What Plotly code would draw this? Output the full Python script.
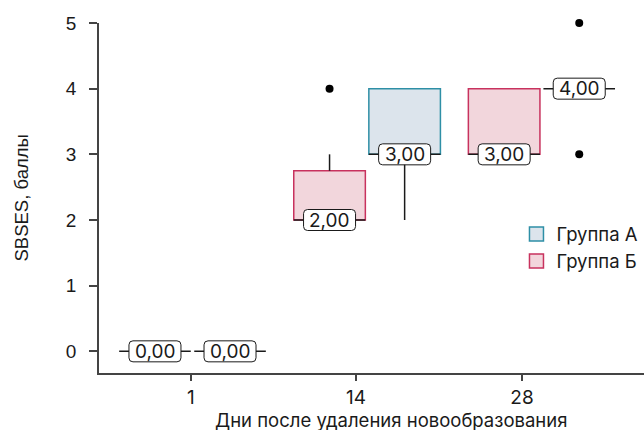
import plotly.graph_objects as go

# ---- data -------------------------------------------------------------
DAYS = ["1", "14", "28"]
GROUP_NAMES = ["Группа А", "Группа Б"]

# Группа А: box statistics per day
A_Q1 = [0, 3, 4]
A_MEDIAN = [0, 3, 4]
A_Q3 = [0, 4, 4]
A_LOW = [0, 2, 4]
A_HIGH = [0, 4, 4]
A_OUTLIERS = [[], [], [5, 3]]

# Группа Б: box statistics per day
B_Q1 = [0, 2, 3]
B_MEDIAN = [0, 2, 3]
B_Q3 = [0, 2.75, 4]
B_LOW = [0, 2, 3]
B_HIGH = [0, 3, 4]
B_OUTLIERS = [[], [4], []]

Y_TICKS = [0, 1, 2, 3, 4, 5]

# ---- layout constants --------------------------------------------------
PAIR_CENTERS = [0, 1, 2]            # centre of each day's pair of boxes
TICK_POS = [-0.01, 0.936, 1.887]    # where the day ticks sit on the axis
DODGE = 0.215                       # half distance between the two boxes
BOX_W = 0.41
X_RANGE = [-0.5355, 2.586]
Y_RANGE = [-0.33, 5]

LABEL_FONT = "Inter"
AXIS_FONT = "Liberation Sans"
INK = "#1a1a1a"
AXIS_COLOR = "#444444"

STYLE = {
    "Группа А": dict(fill="#dce4ec", edge="#2e8fa6", dodge=+DODGE),
    "Группа Б": dict(fill="#f2d6dc", edge="#c8325e", dodge=-DODGE),
}

SERIES = {
    "Группа А": dict(q1=A_Q1, med=A_MEDIAN, q3=A_Q3, low=A_LOW, high=A_HIGH, out=A_OUTLIERS),
    "Группа Б": dict(q1=B_Q1, med=B_MEDIAN, q3=B_Q3, low=B_LOW, high=B_HIGH, out=B_OUTLIERS),
}


def fmt(v):
    return f"{v:.2f}".replace(".", ",")


def rounded_rect(w, h, r):
    hw, hh = w / 2, h / 2
    return (
        f"M{-hw + r},{-hh} L{hw - r},{-hh} Q{hw},{-hh} {hw},{-hh + r} "
        f"L{hw},{hh - r} Q{hw},{hh} {hw - r},{hh} L{-hw + r},{hh} "
        f"Q{-hw},{hh} {-hw},{hh - r} L{-hw},{-hh + r} Q{-hw},{-hh} {-hw + r},{-hh} Z"
    )


LABEL_PATH = rounded_rect(52, 21, 4)

fig = go.Figure()
shapes = []
annotations = []

for name in GROUP_NAMES:
    st = STYLE[name]
    s = SERIES[name]
    xs = [c + st["dodge"] for c in PAIR_CENTERS]

    # boxes (interquartile range)
    bx, by, bb = [], [], []
    for x, q1, q3 in zip(xs, s["q1"], s["q3"]):
        if q3 > q1:
            bx.append(x)
            by.append(q3 - q1)
            bb.append(q1)
    fig.add_trace(go.Bar(
        x=bx, y=by, base=bb, width=BOX_W,
        marker=dict(color=st["fill"], line=dict(color=st["edge"], width=1.5)),
        showlegend=False, hoverinfo="skip",
    ))

    # whiskers
    wx, wy = [], []
    for x, q1, q3, lo, hi in zip(xs, s["q1"], s["q3"], s["low"], s["high"]):
        if hi > q3:
            wx += [x, x, None]
            wy += [q3, hi, None]
        if lo < q1:
            wx += [x, x, None]
            wy += [q1, lo, None]
    fig.add_trace(go.Scatter(
        x=wx, y=wy, mode="lines", line=dict(color=INK, width=1.5),
        showlegend=False, hoverinfo="skip",
    ))

    # median lines
    mx, my = [], []
    for x, m in zip(xs, s["med"]):
        mx += [x - BOX_W / 2, x + BOX_W / 2, None]
        my += [m, m, None]
    fig.add_trace(go.Scatter(
        x=mx, y=my, mode="lines", line=dict(color=INK, width=1.5),
        showlegend=False, hoverinfo="skip", cliponaxis=False,
    ))

    # outliers
    ox, oy = [], []
    for x, pts in zip(xs, s["out"]):
        for p in pts:
            ox.append(x)
            oy.append(p)
    fig.add_trace(go.Scatter(
        x=ox, y=oy, mode="markers", marker=dict(color="black", size=8),
        showlegend=False, hoverinfo="skip", cliponaxis=False,
    ))

    # median value labels
    for x, m in zip(xs, s["med"]):
        shapes.append(dict(
            type="path", xref="x", yref="y",
            xsizemode="pixel", ysizemode="pixel", xanchor=x, yanchor=m,
            path=LABEL_PATH, fillcolor="white",
            line=dict(color=INK, width=1), layer="above",
        ))
        annotations.append(dict(
            x=x, y=m, xref="x", yref="y", text=fmt(m), showarrow=False,
            font=dict(family=LABEL_FONT, size=19, color=INK),
        ))

    # legend entry
    fig.add_trace(go.Scatter(
        x=[None], y=[None], mode="markers", name=name,
        marker=dict(symbol="square", size=14, color=st["fill"],
                    line=dict(color=st["edge"], width=1.5)),
    ))

# axis titles
annotations.append(dict(
    text="Дни после удаления новообразования", xref="paper", yref="paper",
    x=0.536, y=-0.133, xanchor="center", yanchor="middle", showarrow=False,
    font=dict(family=LABEL_FONT, size=18.5, color=INK),
))
annotations.append(dict(
    text="SBSES, баллы", xref="paper", yref="paper", textangle=-90,
    x=-0.144, y=0.5, xanchor="center", yanchor="middle", showarrow=False,
    font=dict(family=AXIS_FONT, size=18.5, color=INK),
))

fig.update_layout(
    width=644, height=430,
    margin=dict(l=99, r=0, t=23, b=57, autoexpand=False),
    paper_bgcolor="white", plot_bgcolor="white",
    barmode="overlay",
    shapes=shapes, annotations=annotations,
    legend=dict(
        x=0.766, y=0.45, xanchor="left", yanchor="top",
        font=dict(family=LABEL_FONT, size=18.5, color=INK),
        bgcolor="rgba(0,0,0,0)",
    ),
    xaxis=dict(
        range=X_RANGE, tickmode="array", tickvals=TICK_POS, ticktext=DAYS,
        showgrid=False, zeroline=False, showline=True, linecolor=AXIS_COLOR,
        linewidth=1.5, ticks="outside", ticklen=6, tickcolor=AXIS_COLOR,
        tickwidth=1.5, tickfont=dict(family=LABEL_FONT, size=19, color=INK),
    ),
    yaxis=dict(
        range=Y_RANGE, tickmode="array", tickvals=Y_TICKS,
        showgrid=False, zeroline=False, showline=True, linecolor=AXIS_COLOR,
        linewidth=1.5, ticks="outside", ticklen=8, tickcolor=AXIS_COLOR,
        tickwidth=1.5, ticklabelstandoff=9,
        tickfont=dict(family=AXIS_FONT, size=19, color=INK),
    ),
)

fig.write_html("out.html")
